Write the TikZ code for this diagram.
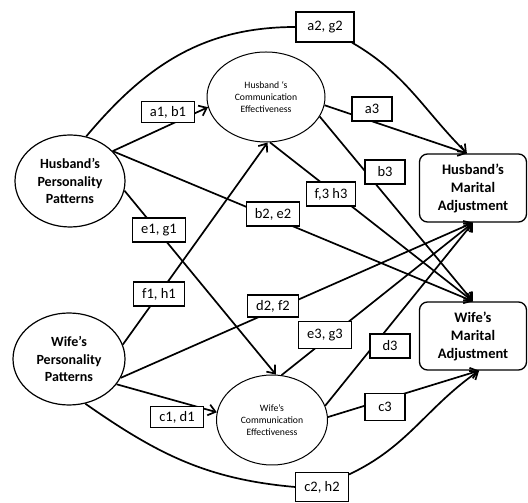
\documentclass[tikz,border=0pt]{standalone}
\usepackage{fontspec}
\setmainfont{Carlito}
\usepackage{tikz}
\usetikzlibrary{shapes.geometric,arrows.meta}

\begin{document}
\begin{tikzpicture}[x=1pt,y=1pt,
        Person/.style={ellipse,draw,line width=1.2pt,inner sep=0pt,align=center,
            font=\bfseries\fontsize{14}{17.5}\selectfont},
        Comm/.style={ellipse,draw,line width=1pt,inner sep=0pt,align=center,
            font=\fontsize{9.7}{11.7}\selectfont},
        Adjust/.style={rectangle,rounded corners=8pt,draw,line width=1.3pt,align=center,
            minimum width=107pt,minimum height=68pt,font=\bfseries\fontsize{14.5}{18}\selectfont},
        Coef/.style={rectangle,draw,fill=white,line width=1.2pt,inner xsep=8.5pt,inner ysep=0pt,
            minimum width=40pt,minimum height=24pt,font=\fontsize{14.5}{16}\selectfont},
        Path/.style={line width=1.7pt},
        >={Straight Barb[length=7pt,width=11pt]}]
    \useasboundingbox (0,0) rectangle (528,503);
    \node[Person,minimum width=110pt,minimum height=92pt] (HP) at (70,322) {Husband's\\Personality\\Patterns};
    \node[Person,minimum width=112pt,minimum height=92pt] (WP) at (69,144) {Wife's\\Personality\\Patterns};
    \node[Comm,minimum width=118pt,minimum height=90pt] (HC) at (266,406) {Husband `s\\Communication\\Effectiveness};
    \node[Comm,minimum width=111pt,minimum height=90pt] (WC) at (272,83) {Wife's\\Communication\\Effectiveness};
    \node[Adjust] (HM) at (473,315) {Husband's\\Marital\\Adjustment};
    \node[Adjust] (WM) at (473,167) {Wife's\\Marital\\Adjustment};
    \draw[Path,->] (HP.35) -- (HC.190);
    \draw[Path,->] (HP.35) -- (WM.north);
    \draw[Path,->] (HP.-10) -- (WC.85);
    \draw[Path,->] (WP.15) -- (HC.-88);
    \draw[Path,->] (WP.-20) -- (HM.south);
    \draw[Path,->] (WP.-28) -- (WC.172);
    \draw[Path,->] (HC.-8) -- (HM.100);
    \draw[Path,->] (HC.-20) -- (WM.north);
    \draw[Path,->] (HC.-85) -- (WM.north);
    \draw[Path,->] (WC.78) -- (HM.south);
    \draw[Path,->] (WC.15) -- (HM.south);
    \draw[Path,->] (WC.3) -- (WM.-80);
    \node[Coef,minimum width=58pt,minimum height=30pt] (a2g2) at (325,476) {a2, g2};
    \node[Coef,minimum height=21pt] (a1b1) at (168,391) {a1, b1};
    \node[Coef] (a3) at (372,394) {a3};
    \node[Coef] (b3) at (385,331) {b3};
    \node[Coef] (f3h3) at (331,309) {f,3 h3};
    \node[Coef] (b2e2) at (273,289) {b2, e2};
    \node[Coef] (e1g1) at (159,273) {e1, g1};
    \node[Coef] (f1h1) at (159,209) {f1, h1};
    \node[Coef,minimum height=22pt] (d2f2) at (273,197) {d2, f2};
    \node[Coef,minimum height=27pt] (e3g3) at (325,168) {e3, g3};
    \node[Coef] (d3) at (390,157) {d3};
    \node[Coef,minimum height=21pt] (c1d1) at (177,86) {c1, d1};
    \node[Coef,minimum height=27pt] (c3) at (385,96) {c3};
    \node[Coef,minimum height=29pt] (c2h2) at (322,16) {c2, h2};
    \draw[Path] (HP.70) to[out=50,in=180] (a2g2);
    \draw[Path,->] (a2g2) to[out=-30,in=135] (HM.100);
    \draw[Path] (WP.-70) to[out=-35,in=175] (c2h2.west);
    \draw[Path,->] (c2h2) to[out=25,in=-145] (WM.-80);
\end{tikzpicture}
\end{document}
